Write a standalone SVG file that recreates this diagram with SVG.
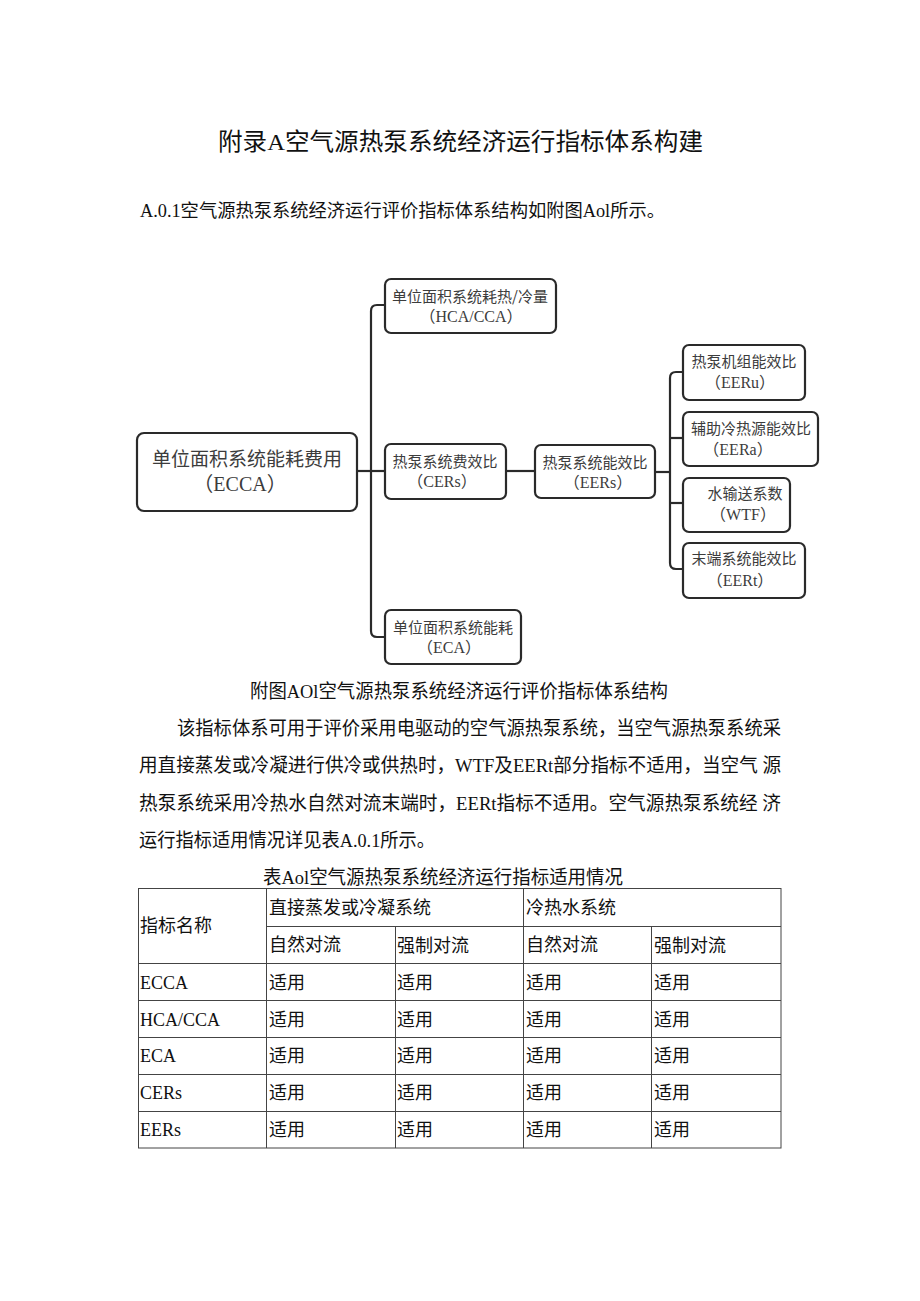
<svg xmlns="http://www.w3.org/2000/svg" width="920" height="1301" viewBox="0 0 920 1301">
<style>
.doc{font-family:"Liberation Serif","Noto Sans CJK SC",serif;fill:#111;}
.box{fill:#fff;stroke:#2a2a2a;stroke-width:2.2;}
.cn{font-family:"Noto Sans CJK SC",sans-serif;fill:#3c3c3c;text-anchor:middle;}
.code{font-family:"Liberation Serif","Noto Sans CJK SC",serif;fill:#3c3c3c;text-anchor:middle;}
.conn{fill:none;stroke:#2a2a2a;stroke-width:2.2;}
.tl{stroke:#444;stroke-width:1;fill:none;}
.tt{font-family:"Liberation Serif","Noto Sans CJK SC",serif;font-size:18px;fill:#111;}
</style>
<rect width="920" height="1301" fill="#fff"/>
<text class="doc" x="218" y="150" font-size="24" textLength="485" lengthAdjust="spacingAndGlyphs">附录A空气源热泵系统经济运行指标体系构建</text>
<text class="doc" x="140" y="217" font-size="18" textLength="525" lengthAdjust="spacingAndGlyphs">A.0.1空气源热泵系统经济运行评价指标体系结构如附图Aol所示。</text>

<g id="connectors">
<path class="conn" d="M357,471 H385"/>
<path class="conn" d="M385,305 H377 Q371,305 371,311 V631 Q371,637 377,637 H385"/>
<path class="conn" d="M506,471 H535"/>
<path class="conn" d="M655,472 H670"/>
<path class="conn" d="M683,372 H676 Q670,372 670,378 V563 Q670,569 676,569 H683"/>
<path class="conn" d="M670,438 H683"/>
<path class="conn" d="M670,503 H683"/>
</g>

<g id="ECCA">
<rect class="box" x="137" y="433" width="220" height="78" rx="7"/>
<text class="cn" x="247" y="466" font-size="19">单位面积系统能耗费用</text>
<text class="code" x="240" y="491" font-size="20">（ECCA）</text>
</g>
<g id="HCA">
<rect class="box" x="385" y="279" width="171" height="54" rx="6"/>
<text class="cn" x="470" y="302" font-size="15">单位面积系统耗热/冷量</text>
<text class="code" x="471" y="322" font-size="16">（HCA/CCA）</text>
</g>
<g id="CERs">
<rect class="box" x="385" y="444" width="121" height="55" rx="6"/>
<text class="cn" x="445" y="467" font-size="15">热泵系统费效比</text>
<text class="code" x="442" y="487" font-size="16">（CERs）</text>
</g>
<g id="ECA">
<rect class="box" x="385" y="610" width="136" height="54" rx="6"/>
<text class="cn" x="453" y="633" font-size="15">单位面积系统能耗</text>
<text class="code" x="449" y="653" font-size="16">（ECA）</text>
</g>
<g id="EERs">
<rect class="box" x="535" y="445" width="120" height="53" rx="6"/>
<text class="cn" x="595" y="468" font-size="15">热泵系统能效比</text>
<text class="code" x="598" y="488" font-size="16">（EERs）</text>
</g>
<g id="EERu">
<rect class="box" x="683" y="345" width="122" height="55" rx="6"/>
<text class="cn" x="744" y="367" font-size="15">热泵机组能效比</text>
<text class="code" x="740" y="388" font-size="16">（EERu）</text>
</g>
<g id="EERa">
<rect class="box" x="683" y="412" width="135" height="54" rx="6"/>
<text class="cn" x="751" y="434" font-size="15">辅助冷热源能效比</text>
<text class="code" x="738" y="455" font-size="16">（EERa）</text>
</g>
<g id="WTF">
<rect class="box" x="683" y="478" width="107" height="54" rx="6"/>
<text class="cn" x="745" y="499" font-size="15">水输送系数</text>
<text class="code" x="743" y="520" font-size="16">（WTF）</text>
</g>
<g id="EERt">
<rect class="box" x="683" y="543" width="122" height="55" rx="6"/>
<text class="cn" x="744" y="564" font-size="15">末端系统能效比</text>
<text class="code" x="740" y="586" font-size="16">（EERt）</text>
</g>

<text class="doc" x="250" y="698" font-size="19" textLength="418" lengthAdjust="spacingAndGlyphs">附图AOl空气源热泵系统经济运行评价指标体系结构</text>
<text class="doc" x="177" y="735" font-size="19" textLength="604" lengthAdjust="spacingAndGlyphs">该指标体系可用于评价采用电驱动的空气源热泵系统，当空气源热泵系统采</text>
<text class="doc" x="139" y="772" font-size="19" textLength="642" lengthAdjust="spacingAndGlyphs">用直接蒸发或冷凝进行供冷或供热时，WTF及EERt部分指标不适用，当空气 源</text>
<text class="doc" x="139" y="810" font-size="19" textLength="642" lengthAdjust="spacingAndGlyphs">热泵系统采用冷热水自然对流末端时，EERt指标不适用。空气源热泵系统经 济</text>
<text class="doc" x="139" y="847" font-size="19" textLength="296" lengthAdjust="spacingAndGlyphs">运行指标适用情况详见表A.0.1所示。</text>

<text class="doc" x="263" y="884" font-size="19" textLength="360" lengthAdjust="spacingAndGlyphs">表Aol空气源热泵系统经济运行指标适用情况</text>

<g id="table">
<rect class="tl" x="138.5" y="888.5" width="642.5" height="259.5"/>
<path class="tl" d="M266.5,926.5 H781 M138.5,963.5 H781 M138.5,1000.5 H781 M138.5,1037.5 H781 M138.5,1074.5 H781 M138.5,1111.5 H781"/>
<path class="tl" d="M266.5,888.5 V1148 M523.5,888.5 V1148 M395.5,926.5 V1148 M651.5,926.5 V1148"/>
<text class="tt" x="140" y="932">指标名称</text>
<text class="tt" x="269" y="914">直接蒸发或冷凝系统</text>
<text class="tt" x="526" y="914">冷热水系统</text>
<text class="tt" x="269" y="951">自然对流</text>
<text class="tt" x="397" y="952">强制对流</text>
<text class="tt" x="526" y="951">自然对流</text>
<text class="tt" x="654" y="952">强制对流</text>
<text class="tt" x="140" y="989">ECCA</text>
<text class="tt" x="140" y="1026">HCA/CCA</text>
<text class="tt" x="140" y="1062">ECA</text>
<text class="tt" x="140" y="1099">CERs</text>
<text class="tt" x="140" y="1136">EERs</text>
<g>
<text class="tt" x="269" y="989">适用</text><text class="tt" x="397" y="989">适用</text><text class="tt" x="526" y="989">适用</text><text class="tt" x="654" y="989">适用</text>
<text class="tt" x="269" y="1026">适用</text><text class="tt" x="397" y="1026">适用</text><text class="tt" x="526" y="1026">适用</text><text class="tt" x="654" y="1026">适用</text>
<text class="tt" x="269" y="1062">适用</text><text class="tt" x="397" y="1062">适用</text><text class="tt" x="526" y="1062">适用</text><text class="tt" x="654" y="1062">适用</text>
<text class="tt" x="269" y="1099">适用</text><text class="tt" x="397" y="1099">适用</text><text class="tt" x="526" y="1099">适用</text><text class="tt" x="654" y="1099">适用</text>
<text class="tt" x="269" y="1136">适用</text><text class="tt" x="397" y="1136">适用</text><text class="tt" x="526" y="1136">适用</text><text class="tt" x="654" y="1136">适用</text>
</g>
</g>
</svg>
